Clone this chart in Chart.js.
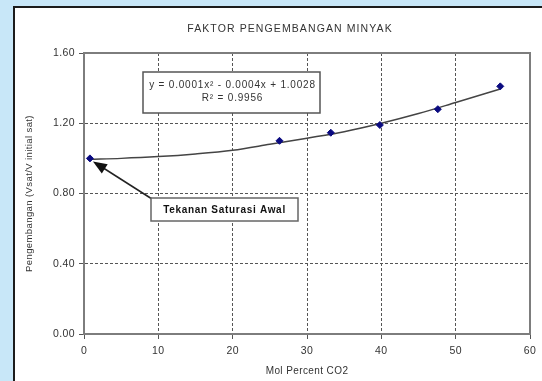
<!DOCTYPE html>
<html lang="id">
<head>
<meta charset="UTF-8">
<title>Faktor Pengembangan Minyak</title>
<script src="https://cdn.jsdelivr.net/npm/chart.js"></script>
<style>
    body {
        margin: 0;
        width: 542px;
        height: 381px;
        overflow: hidden;
        position: relative;
        background: #c8e7f8;
        font-family: "Liberation Sans", Arial, sans-serif;
    }
    .panel {
        position: absolute;
        left: 13px;
        top: 6px;
        width: 560px;
        height: 400px;
        background: #fff;
        border-left: 2px solid #1c1c1c;
        border-top: 2px solid #1c1c1c;
    }
    #grafico {
        position: absolute;
        left: 0;
        top: 0;
    }
</style>
</head>
<body>
<div class="panel"></div>
<canvas id="grafico" width="542" height="381"></canvas>
<script>
// data titik pengamatan
const molCO2 = [0.8, 26.3, 33.2, 39.8, 47.6, 56.0];
const pengembangan = [1.00, 1.10, 1.146, 1.19, 1.28, 1.41];

// garis trend
const trendX = [0.8, 5, 10, 15, 20, 25, 30, 35, 40, 45, 50, 56];
const trendY = [0.995, 1.000, 1.010, 1.025, 1.046, 1.080, 1.115, 1.152, 1.200, 1.255, 1.318, 1.395];

const xTicks = [0, 10, 20, 30, 40, 50, 60];
const yTicks = [0.00, 0.40, 0.80, 1.20, 1.60];

const judul = 'FAKTOR PENGEMBANGAN MINYAK';
const judulX = 'Mol Percent CO2';
const judulY = 'Pengembangan (Vsat/V initial sat)';
const persamaan = ['y = 0.0001x\u00B2 - 0.0004x + 1.0028', 'R\u00B2 = 0.9956'];
const catatan = 'Tekanan Saturasi Awal';

const FONT = '"Liberation Sans", Arial, sans-serif';

const dekorasi = {
    id: 'dekorasi',
    beforeDraw(chart) {
        // teks aslinya agak melebar
        chart.ctx.letterSpacing = '0.4px';
    },
    beforeDatasetsDraw(chart) {
        const { ctx, chartArea: a } = chart;
        ctx.save();
        ctx.strokeStyle = '#7d7d7d';
        ctx.lineWidth = 2;
        ctx.strokeRect(a.left, a.top, a.right - a.left, a.bottom - a.top);
        ctx.restore();
    },
    afterDraw(chart) {
        const { ctx, chartArea: a, scales } = chart;
        ctx.save();

        // judul
        ctx.fillStyle = '#333';
        ctx.font = '10.5px ' + FONT;
        ctx.letterSpacing = '1.1px';
        ctx.textAlign = 'center';
        ctx.textBaseline = 'middle';
        ctx.fillText(judul, 290, 29);

        // kotak persamaan
        const bx = a.left + 59, by = a.top + 19, bw = 177, bh = 41;
        ctx.fillStyle = '#fff';
        ctx.fillRect(bx, by, bw, bh);
        ctx.strokeStyle = '#555';
        ctx.lineWidth = 1.5;
        ctx.strokeRect(bx, by, bw, bh);
        ctx.fillStyle = '#333';
        ctx.font = '10px ' + FONT;
        ctx.letterSpacing = '0.8px';
        ctx.fillText(persamaan[0], bx + bw / 2 + 1, by + 13);
        ctx.fillText(persamaan[1], bx + bw / 2 + 1, by + 26);

        // panah ke titik awal
        const tx = scales.x.getPixelForValue(molCO2[0]) + 3;
        const ty = scales.y.getPixelForValue(pengembangan[0]) + 3;
        const sx = 152, sy = 199;
        const ang = Math.atan2(ty - sy, tx - sx);
        ctx.strokeStyle = '#222';
        ctx.lineWidth = 1.5;
        ctx.beginPath();
        ctx.moveTo(sx, sy);
        ctx.lineTo(tx - 10 * Math.cos(ang), ty - 10 * Math.sin(ang));
        ctx.stroke();
        ctx.fillStyle = '#111';
        ctx.beginPath();
        ctx.moveTo(tx, ty);
        ctx.lineTo(tx - 14 * Math.cos(ang) + 5.5 * Math.sin(ang), ty - 14 * Math.sin(ang) - 5.5 * Math.cos(ang));
        ctx.lineTo(tx - 14 * Math.cos(ang) - 5.5 * Math.sin(ang), ty - 14 * Math.sin(ang) + 5.5 * Math.cos(ang));
        ctx.closePath();
        ctx.fill();

        // kotak catatan
        const cx = 151, cy = 198, cw = 147, ch = 23;
        ctx.fillStyle = '#fff';
        ctx.fillRect(cx, cy, cw, ch);
        ctx.strokeStyle = '#666';
        ctx.lineWidth = 1.5;
        ctx.strokeRect(cx, cy, cw, ch);
        ctx.fillStyle = '#111';
        ctx.font = 'bold 10px ' + FONT;
        ctx.letterSpacing = '0.7px';
        ctx.fillText(catatan, cx + cw / 2, cy + ch / 2 + 1);

        ctx.restore();
    }
};

const ctx = document.getElementById('grafico').getContext('2d');
new Chart(ctx, {
    type: 'scatter',
    data: {
        datasets: [
            {
                label: 'Trend',
                type: 'line',
                data: trendX.map((x, i) => ({ x, y: trendY[i] })),
                borderColor: '#444',
                borderWidth: 1.5,
                pointRadius: 0,
                cubicInterpolationMode: 'monotone',
                fill: false,
                order: 2
            },
            {
                label: 'Pengembangan',
                data: molCO2.map((x, i) => ({ x, y: pengembangan[i] })),
                pointStyle: 'rectRot',
                pointRadius: 3.5,
                backgroundColor: '#0a0a80',
                borderColor: '#0a0a80',
                order: 1
            }
        ]
    },
    options: {
        responsive: false,
        animation: false,
        layout: { padding: { left: 20, top: 53, right: 12, bottom: 0 } },
        plugins: {
            legend: { display: false },
            tooltip: { enabled: false },
            title: { display: false }
        },
        scales: {
            x: {
                type: 'linear',
                min: 0,
                max: 60,
                afterBuildTicks: s => { s.ticks = xTicks.map(v => ({ value: v })); },
                afterFit: s => { s.height = 47; },
                ticks: { color: '#333', font: { family: FONT, size: 10.5 }, padding: 6 },
                grid: { color: '#555', tickLength: 5, tickColor: '#555', tickBorderDash: [] },
                border: { color: '#666', width: 2, dash: [3, 2] },
                title: { display: true, text: judulX, color: '#333', font: { family: FONT, size: 10 }, padding: { top: 4, bottom: 4 } }
            },
            y: {
                min: 0,
                max: 1.6,
                afterBuildTicks: s => { s.ticks = yTicks.map(v => ({ value: v })); },
                afterFit: s => { s.width = 64; },
                ticks: { color: '#333', font: { family: FONT, size: 10.5 }, padding: 4, callback: v => v.toFixed(2) },
                grid: { color: '#555', tickLength: 5, tickColor: '#555', tickBorderDash: [] },
                border: { color: '#666', width: 2, dash: [3, 2] },
                title: { display: true, text: judulY, color: '#333', font: { family: FONT, size: 9.5 }, padding: { top: 4, bottom: 4 } }
            }
        }
    },
    plugins: [dekorasi]
});
</script>
</body>
</html>
